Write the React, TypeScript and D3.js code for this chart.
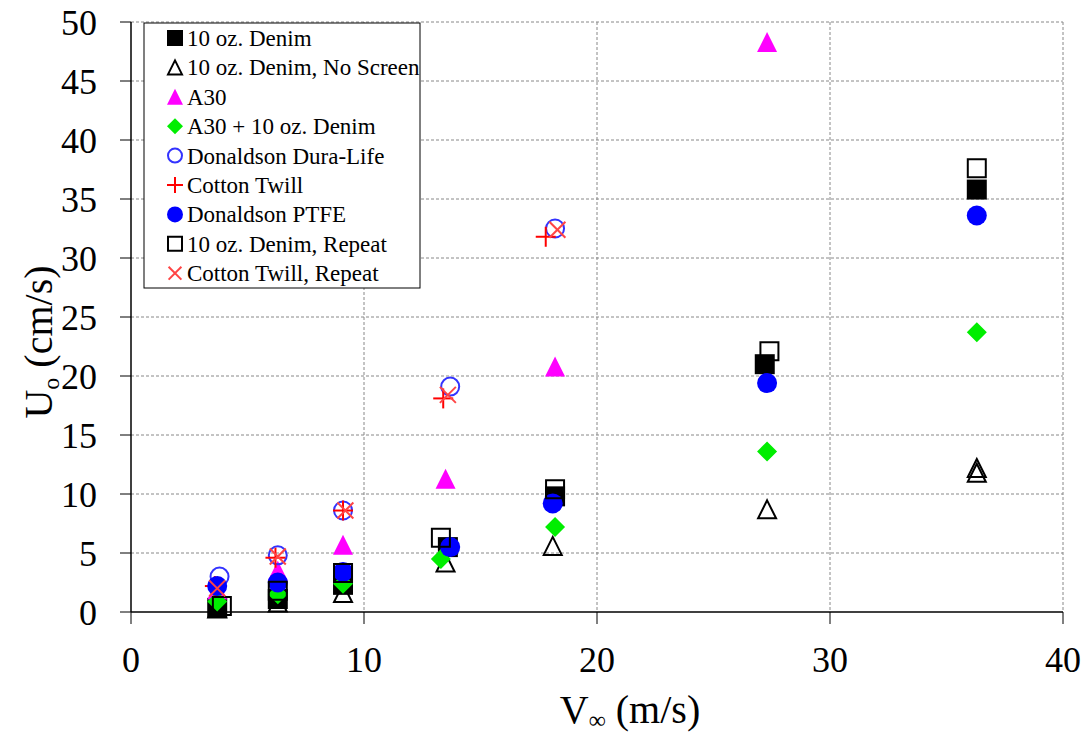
import React from "react";
import * as d3 from "d3";

const xTicks = [0, 10, 20, 30, 40];
const yTicks = [0, 5, 10, 15, 20, 25, 30, 35, 40, 45, 50];

const denimX = [3.7, 6.3, 9.1, 13.6, 18.2, 27.2, 36.3];
const denimY = [0.35, 1.1, 2.3, 5.5, 9.8, 21.0, 35.8];
const noScreenX = [3.7, 6.3, 9.1, 13.5, 18.1, 27.3, 36.3, 36.3];
const noScreenY = [0.3, 0.8, 1.6, 4.2, 5.6, 8.7, 12.2, 11.8];
const a30X = [3.7, 6.3, 9.1, 13.5, 18.2, 27.3];
const a30Y = [1.9, 3.5, 5.7, 11.3, 20.8, 48.3];
const a30DenimX = [3.7, 6.3, 9.1, 13.3, 18.2, 27.3, 36.3];
const a30DenimY = [0.9, 1.5, 2.4, 4.5, 7.2, 13.6, 23.7];
const duraX = [3.8, 6.3, 9.1, 13.7, 18.2];
const duraY = [3.0, 4.8, 8.6, 19.1, 32.5];
const twillX = [3.6, 6.2, 9.1, 13.4, 17.8];
const twillY = [2.2, 4.6, 8.6, 18.1, 31.8];
const ptfeX = [3.7, 6.3, 9.1, 13.7, 18.1, 27.3, 36.3];
const ptfeY = [2.2, 2.5, 3.4, 5.5, 9.2, 19.4, 33.6];
const denimRepX = [3.9, 6.3, 9.1, 13.3, 18.2, 27.4, 36.3];
const denimRepY = [0.5, 1.8, 3.3, 6.3, 10.4, 22.1, 37.6];
const twillRepX = [3.7, 6.3, 9.2, 13.6, 18.3];
const twillRepY = [2.0, 4.7, 8.6, 18.4, 32.4];

type Series = { name: string; xs: number[]; ys: number[]; shape: string; color: string; fill: boolean };

const series: Series[] = [
  { name: "10 oz. Denim", xs: denimX, ys: denimY, shape: "square", color: "#000000", fill: true },
  { name: "10 oz. Denim, No Screen", xs: noScreenX, ys: noScreenY, shape: "triangle", color: "#000000", fill: false },
  { name: "A30", xs: a30X, ys: a30Y, shape: "triangle", color: "#ff00ff", fill: true },
  { name: "A30 + 10 oz. Denim", xs: a30DenimX, ys: a30DenimY, shape: "diamond", color: "#00ee00", fill: true },
  { name: "Donaldson Dura-Life", xs: duraX, ys: duraY, shape: "circle", color: "#3333ff", fill: false },
  { name: "Cotton Twill", xs: twillX, ys: twillY, shape: "plus", color: "#ff0000", fill: false },
  { name: "Donaldson PTFE", xs: ptfeX, ys: ptfeY, shape: "circle", color: "#0000ff", fill: true },
  { name: "10 oz. Denim, Repeat", xs: denimRepX, ys: denimRepY, shape: "square", color: "#000000", fill: false },
  { name: "Cotton Twill, Repeat", xs: twillRepX, ys: twillRepY, shape: "x", color: "#ff4444", fill: false },
];

const W = 1091, H = 734;
const L = 131, R = 1063, T = 22, B = 612;
const FONT = "'Liberation Serif', 'Times New Roman', serif";

function Marker({ s, cx, cy, k }: { s: Series; cx: number; cy: number; k: number }) {
  const h = 10 * k;
  if (s.shape === "plus") {
    return (
      <g stroke={s.color} strokeWidth={2}>
        <line x1={cx - h} x2={cx + h} y1={cy} y2={cy} />
        <line x1={cx} x2={cx} y1={cy - h} y2={cy + h} />
      </g>
    );
  }
  if (s.shape === "x") {
    const d = h * 0.8;
    return (
      <g stroke={s.color} strokeWidth={2}>
        <line x1={cx - d} x2={cx + d} y1={cy - d} y2={cy + d} />
        <line x1={cx - d} x2={cx + d} y1={cy + d} y2={cy - d} />
      </g>
    );
  }
  let p = "";
  if (s.shape === "square") p = d3.symbol(d3.symbolSquare, (2 * h - (s.fill ? 0 : 2)) ** 2)() as string;
  if (s.shape === "circle") p = d3.symbol(d3.symbolCircle, Math.PI * (h - (s.fill ? 0 : 1)) ** 2)() as string;
  if (s.shape === "diamond") {
    p = `M0,${-h}L${h},0L0,${h}L${-h},0Z`;
  }
  if (s.shape === "triangle") {
    const hh = h - (s.fill ? 0 : 1);
    p = `M0,${-hh}L${hh},${hh}L${-hh},${hh}Z`;
  }
  return (
    <path
      d={p}
      transform={`translate(${cx},${cy})`}
      fill={s.fill ? s.color : "none"}
      stroke={s.color}
      strokeWidth={s.fill ? 0 : 2}
    />
  );
}

export default function App() {
  const x = d3.scaleLinear().domain([0, 40]).range([L, R]);
  const y = d3.scaleLinear().domain([0, 50]).range([B, T]);
  const ts = { fontFamily: FONT };
  return (
    <svg width={W} height={H} style={{ position: "absolute", left: 0, top: 0 }}>
      <rect width={W} height={H} fill="#fff" />
      {yTicks.filter((v) => v > 0).map((v) => (
        <line key={"gy" + v} x1={L} x2={R} y1={y(v)} y2={y(v)} stroke="#888" strokeDasharray="3,2" strokeWidth={1} />
      ))}
      {xTicks.filter((v) => v > 0).map((v) => (
        <line key={"gx" + v} x1={x(v)} x2={x(v)} y1={T} y2={B} stroke="#888" strokeDasharray="3,2" strokeWidth={1} />
      ))}
      <line x1={L} x2={L} y1={T} y2={B} stroke="#000" strokeWidth={1.5} />
      <line x1={L} x2={R} y1={B} y2={B} stroke="#000" strokeWidth={1.5} />
      {yTicks.map((v) => (
        <g key={"ty" + v}>
          <line x1={L - 11} x2={L} y1={y(v)} y2={y(v)} stroke="#000" />
          <text x={L - 34} y={y(v)} dy="0.35em" textAnchor="end" style={ts} fontSize={36}>{v}</text>
        </g>
      ))}
      {xTicks.map((v) => (
        <g key={"tx" + v}>
          <line x1={x(v)} x2={x(v)} y1={B} y2={B + 12} stroke="#000" />
          <text x={x(v)} y={B + 60} textAnchor="middle" style={ts} fontSize={36}>{v}</text>
        </g>
      ))}
      <text x={630} y={723} textAnchor="middle" style={ts} fontSize={40}>
        V<tspan fontSize={24} dy={5}>∞</tspan><tspan dy={-5}> (m/s)</tspan>
      </text>
      <text transform={`translate(52,342) rotate(-90)`} textAnchor="middle" style={ts} fontSize={40}>
        U<tspan fontSize={24} dy={7}>o</tspan><tspan dy={-7}> (cm/s)</tspan>
      </text>
      <g>
        {series.map((s) =>
          s.xs.map((xv, i) => <Marker key={s.name + i} s={s} cx={x(xv)} cy={y(s.ys[i])} k={1} />)
        )}
      </g>
      <g>
        <rect x={144} y={23} width={276} height={265} fill="#fff" stroke="#000" strokeWidth={1} />
        {series.map((s, i) => (
          <g key={"lg" + i}>
            <Marker s={s} cx={175} cy={38 + i * 29.4} k={0.8} />
            <text x={187} y={38 + i * 29.4} dy="0.35em" style={ts} fontSize={23}>{s.name}</text>
          </g>
        ))}
      </g>
    </svg>
  );
}
